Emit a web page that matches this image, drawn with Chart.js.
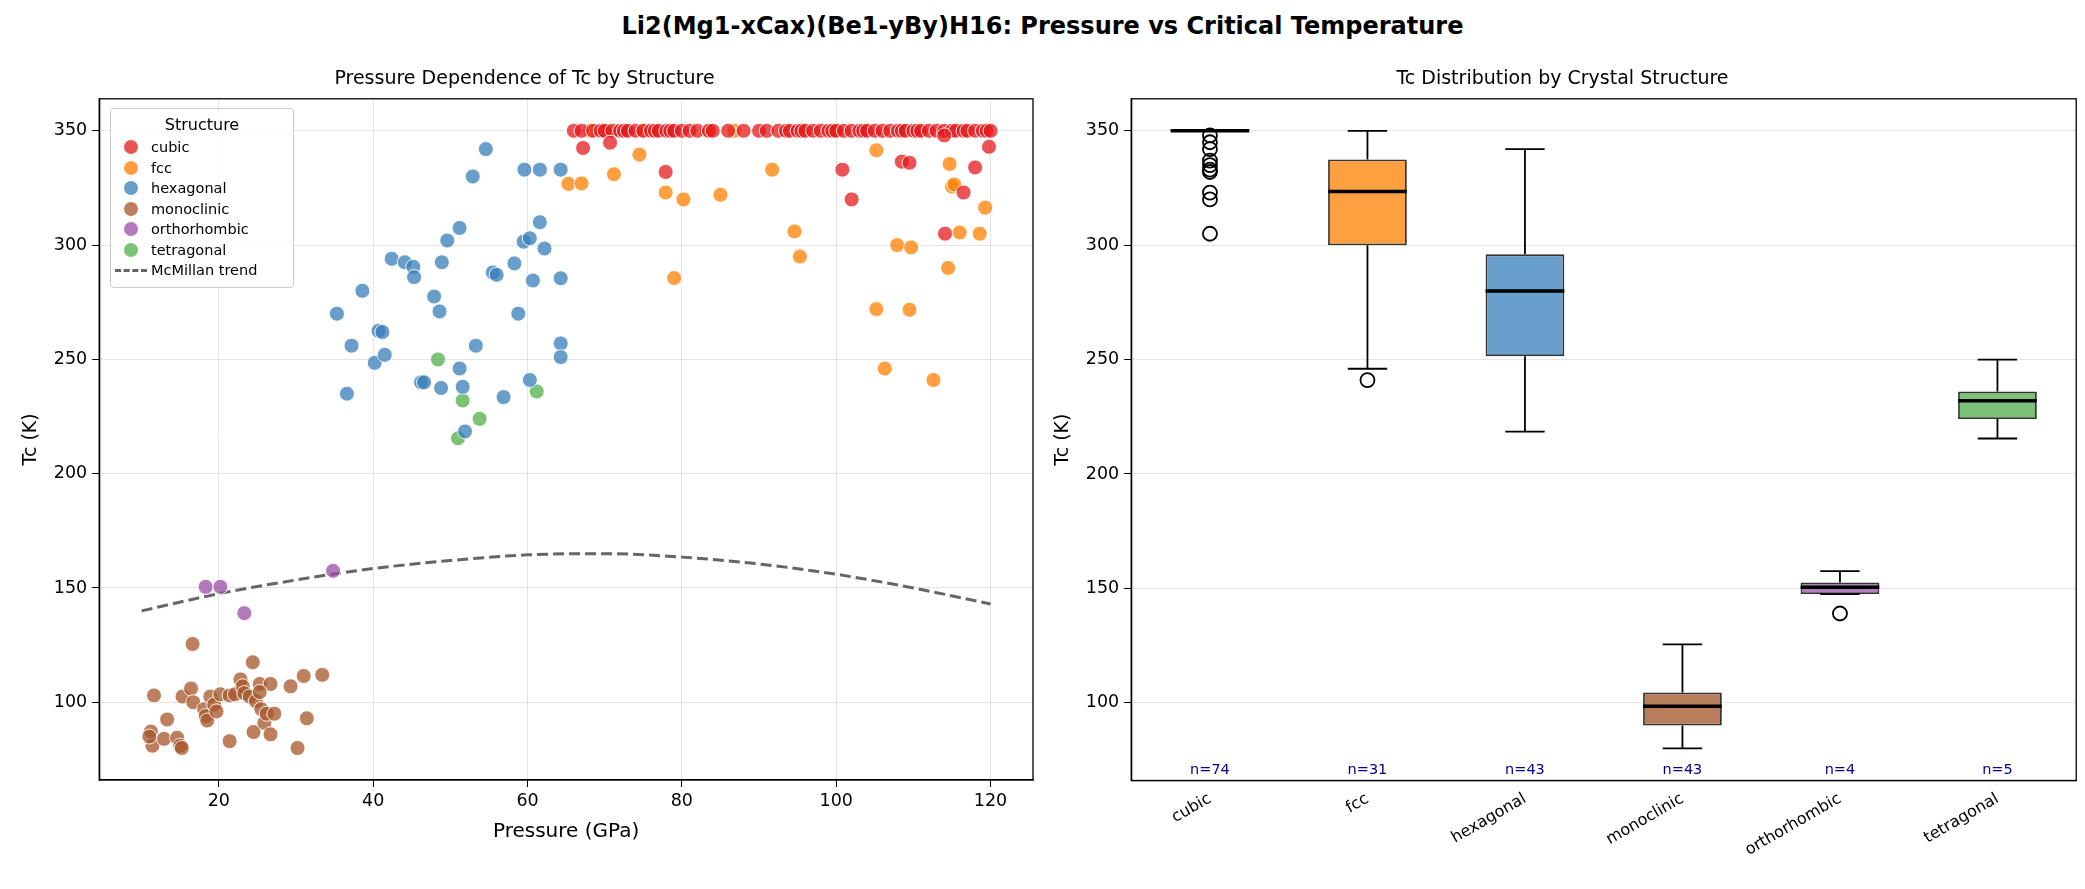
<!DOCTYPE html>
<html>
<head>
<meta charset="utf-8">
<script src="https://cdn.jsdelivr.net/npm/chart.js@4.4.0/dist/chart.umd.min.js"></script>
<style>
  body{margin:0;background:#fff;font-family:"DejaVu Sans",sans-serif;}
  #wrap{position:relative;width:2085px;height:889px;}
  #suptitle{position:absolute;top:12px;left:0;width:2085px;text-align:center;font-weight:bold;font-size:24px;color:#000;}
  #c1{position:absolute;left:0;top:0;}
  #c2{position:absolute;left:1045px;top:0;}
  #legend{position:absolute;left:110px;top:108px;width:182px;padding:6px 0 6px 0;border:1px solid #ccc;border-radius:4px;background:rgba(255,255,255,0.85);font-size:14.5px;color:#000;}
  #legend .t{text-align:center;font-size:16px;margin-bottom:3px;}
  #legend .r{height:20.5px;display:flex;align-items:center;}
  #legend .m{width:40px;display:flex;justify-content:center;}
  #legend .dot{width:14px;height:14px;border-radius:50%;}
  #legend .dash{width:32px;height:0;border-top:3px dashed #666;}
</style>
</head>
<body>
<div id="wrap">
  <div id="suptitle">Li2(Mg1-xCax)(Be1-yBy)H16: Pressure vs Critical Temperature</div>
  <canvas id="c1" width="1045" height="889"></canvas>
  <canvas id="c2" width="1040" height="889"></canvas>
  <div id="legend"></div>
</div>
<script>
// ---- data ----
const structures = ['cubic', 'fcc', 'hexagonal', 'monoclinic', 'orthorhombic', 'tetragonal'];
const colors = ['rgba(228,26,28,0.75)', 'rgba(255,127,0,0.75)', 'rgba(55,126,184,0.75)', 'rgba(166,86,40,0.75)', 'rgba(152,78,163,0.75)', 'rgba(77,175,74,0.75)'];

// cubic: most points saturate at 350 K
const cubicTop = [66,67,68.5,69.5,70,71,72,72.5,73,74,75,76,76.5,77,78,78.5,79,80,81,82,83.5,84,86,88,90,91,92.5,93.5,94,95,95.5,96,97,98,99,99.5,100,101,102,103,103.5,104,105,106,107,108,108.5,109,110,110.5,111,112,113,114,115,115.5,116.5,117,118,119,119.5,120];
const cubicP = [67.2,70.7,77.9,100.8,102,108.5,109.5,114.1,116.5,118,119.8,114];
const cubicTc = [342.5,344.8,332,333,320,336.5,336,305,323,334,343,348];

const fccP = [68.1,70.3,75.2,83.3,86.8,100.2,65.3,67,71.2,74.5,77.9,80.2,85,91.7,79,105.2,105.2,106.3,107.9,109.7,109.5,112.6,114.5,114.7,115,115.3,116,118.6,119.3,94.6,95.3];
const fccTc = [350,350,350,350,350,350,326.8,327,331,339.6,323,320,322,333,285.6,341.5,272,246,300,299,271.7,241,290,335.5,325.6,326.5,305.5,305,316.4,306,295];

const hexP = [35.3,36.6,37.2,38.6,40.2,40.7,41.2,41.5,42.4,44.1,45.2,45.3,46.2,46.6,47.9,48.6,48.8,48.9,49.6,51.2,51.2,51.6,51.9,52.9,53.3,54.6,55.5,56,56.9,58.3,58.8,59.5,59.6,60.3,60.3,60.7,61.6,61.6,62.2,64.3,64.3,64.3,64.3];
const hexTc = [270,235,256,280,248.5,262.5,262,252,294,292.5,290.5,286,240,240,277.5,271,237.5,292.5,302,307.5,246,238,218.5,330,256,342,288,287,233.5,292,270,301.5,333,303,241,284.5,333,310,298.5,333,285.5,257,251];

const monoP = [11.6,11.2,11.4,11,13.3,12.9,14.6,15,15.2,15.3,16.6,16.4,16.7,18.1,18.3,18.5,18.9,19.4,19.7,20.2,21.4,21.4,22.1,22.8,23.1,23.3,24,24.4,24.5,24.8,25.3,25.5,25.9,26.2,26.7,26.7,27.2,29.3,30.2,31,31.4,33.4,25.3];
const monoTc = [103,87.2,81,85,92.5,84,84.5,81,80,102.5,125.5,106,100,97,94,92,102.5,99,96,103.5,103,83,103.5,110,107,104,102.5,117.5,87,100.5,108,97,91,95,108,86,95,107,80,111.5,93,112,104.5];

const orthoP = [18.3,20.2,23.3,34.8];
const orthoTc = [150.5,150.5,139,157.5];

const tetraP = [48.4,61.2,51.6,53.8,51];
const tetraTc = [250,236,232,224,215.5];

const trendP = [10,20,30,40,50,60,70,80,90,100,110,120];
const trendTc = [140,147.5,153.5,158.5,162,164.5,165,163.5,160.5,156,150,143];

// box statistics
const boxLo  = [350, 246, 218.5, 80, 147.5, 215.5];
const boxQ1  = [350, 300, 251.5, 90, 147.5, 224];
const boxMed = [350, 323.5, 280, 98.5, 150.5, 232];
const boxQ3  = [350, 337.5, 296, 104.5, 152.5, 236];
const boxHi  = [350, 350, 342, 125.5, 157.5, 250];
const outliers = [
  [348,345,342,337,335,333,332,323,320,305],
  [241], [], [], [139], []
];
const counts = [74, 31, 43, 43, 4, 5];
const boxFill = ['#e41a1c', '#ffa040', '#68a0cb', '#b87d5b', '#b27dbd', '#7bc178'];

const yTicks = [100,150,200,250,300,350];
const xTicks = [20,40,60,80,100,120];
// ------------------------------------

const FONT = '"DejaVu Sans", sans-serif';
Chart.defaults.font.family = FONT;
Chart.defaults.color = '#000';
Chart.defaults.animation = false;

const frame = {
  id: 'frame',
  afterDraw(chart){
    const {ctx, chartArea:a} = chart;
    ctx.save();
    ctx.strokeStyle = '#000'; ctx.lineWidth = 1.3;
    ctx.strokeRect(a.left, a.top, a.right - a.left, a.bottom - a.top);
    ctx.restore();
  }
};

function pts(xs, ys){ return xs.map((x, i) => ({x, y: ys[i]})); }
const series = [
  pts(cubicTop, cubicTop.map(() => 350)).concat(pts(cubicP, cubicTc)),
  pts(fccP, fccTc), pts(hexP, hexTc), pts(monoP, monoTc), pts(orthoP, orthoTc), pts(tetraP, tetraTc)
];

const yScale = {
  min: 66, max: 364,
  afterBuildTicks(s){ s.ticks = yTicks.map(v => ({value: v})); },
  grid: {color: 'rgba(0,0,0,0.1)', tickLength: 7, tickColor: '#000'},
  border: {color: '#000', width: 1.3},
  ticks: {font: {size: 17.5}, padding: 5},
  title: {display: true, text: 'Tc (K)', font: {size: 19}, padding: {bottom: 6}}
};

new Chart(document.getElementById('c1'), {
  type: 'scatter',
  data: {
    datasets: structures.map((s, i) => ({
      label: s, data: series[i], backgroundColor: colors[i],
      borderColor: 'rgba(255,255,255,0.9)', borderWidth: 1, pointRadius: 7.5
    })).concat([{
      type: 'line', label: 'McMillan trend', data: pts(trendP, trendTc),
      borderColor: '#666', borderWidth: 3, borderDash: [11, 5], pointRadius: 0,
      tension: 0.4, cubicInterpolationMode: 'monotone'
    }])
  },
  options: {
    responsive: false,
    layout: {padding: {top: 62, left: 16, right: 12, bottom: 41}},
    plugins: {
      legend: {display: false}, tooltip: {enabled: false},
      title: {display: true, text: 'Pressure Dependence of Tc by Structure', font: {size: 19, weight: 'normal'}, padding: {top: 6, bottom: 8}}
    },
    scales: {
      x: {
        type: 'linear', min: 4.5, max: 125.5,
        afterBuildTicks(s){ s.ticks = xTicks.map(v => ({value: v})); },
        grid: {color: 'rgba(0,0,0,0.1)', tickLength: 7, tickColor: '#000'},
        border: {color: '#000', width: 1.3},
        ticks: {font: {size: 17.5}, padding: 4},
        title: {display: true, text: 'Pressure (GPa)', font: {size: 20}, padding: {top: 4}}
      },
      y: yScale
    }
  },
  plugins: [frame]
});

// box plot: floating bars for the IQR, whiskers/medians from a plugin, outliers as scatter
const boxParts = {
  id: 'boxParts',
  afterDatasetsDraw(chart){
    const {ctx, scales:{x, y}, chartArea:a} = chart;
    const half = (x.getPixelForValue(1) - x.getPixelForValue(0)) * 0.25;
    ctx.save();
    structures.forEach((s, i) => {
      const cx = x.getPixelForValue(i);
      ctx.strokeStyle = '#000'; ctx.lineWidth = 1.8;
      ctx.beginPath();
      ctx.moveTo(cx, y.getPixelForValue(boxQ1[i])); ctx.lineTo(cx, y.getPixelForValue(boxLo[i]));
      ctx.moveTo(cx, y.getPixelForValue(boxQ3[i])); ctx.lineTo(cx, y.getPixelForValue(boxHi[i]));
      ctx.moveTo(cx - half / 2, y.getPixelForValue(boxLo[i])); ctx.lineTo(cx + half / 2, y.getPixelForValue(boxLo[i]));
      ctx.moveTo(cx - half / 2, y.getPixelForValue(boxHi[i])); ctx.lineTo(cx + half / 2, y.getPixelForValue(boxHi[i]));
      ctx.stroke();
      ctx.lineWidth = 3.5;
      ctx.beginPath();
      ctx.moveTo(cx - half, y.getPixelForValue(boxMed[i])); ctx.lineTo(cx + half, y.getPixelForValue(boxMed[i]));
      ctx.stroke();
      ctx.fillStyle = '#00008b'; ctx.font = '14.5px ' + FONT; ctx.textAlign = 'center';
      ctx.fillText('n=' + counts[i], cx, a.bottom - 6);
    });
    ctx.restore();
  }
};

const outlierPts = [];
outliers.forEach((list, i) => list.forEach(v => outlierPts.push({x: structures[i], y: v})));

new Chart(document.getElementById('c2'), {
  data: {
    labels: structures,
    datasets: [{
      type: 'bar', data: structures.map((s, i) => [boxQ1[i], boxQ3[i]]),
      backgroundColor: boxFill, borderColor: '#333', borderWidth: 1.8,
      borderSkipped: false, barPercentage: 0.5, categoryPercentage: 1
    }, {
      type: 'scatter', data: outlierPts, pointRadius: 7, backgroundColor: 'rgba(0,0,0,0)',
      borderColor: '#000', borderWidth: 1.8
    }]
  },
  options: {
    responsive: false,
    layout: {padding: {top: 62, left: 3, right: 8, bottom: 27}},
    plugins: {
      legend: {display: false}, tooltip: {enabled: false},
      title: {display: true, text: 'Tc Distribution by Crystal Structure', font: {size: 19, weight: 'normal'}, padding: {top: 6, bottom: 8}}
    },
    scales: {
      x: {
        type: 'category', offset: true,
        grid: {display: false, tickLength: 7, tickColor: '#000'},
        border: {color: '#000', width: 1.3},
        ticks: {font: {size: 16}, minRotation: 30, maxRotation: 30, padding: 2}
      },
      y: Object.assign({}, yScale, {grid: {color: 'rgba(0,0,0,0.1)', tickLength: 7, tickColor: '#000'}})
    }
  },
  plugins: [boxParts, frame]
});

// legend inside the left axes
const lg = document.getElementById('legend');
let html = '<div class="t">Structure</div>';
structures.forEach((s, i) => {
  html += '<div class="r"><div class="m"><div class="dot" style="background:' + colors[i] + '"></div></div>' + s + '</div>';
});
html += '<div class="r"><div class="m"><div class="dash"></div></div>McMillan trend</div>';
lg.innerHTML = html;
</script>
</body>
</html>
